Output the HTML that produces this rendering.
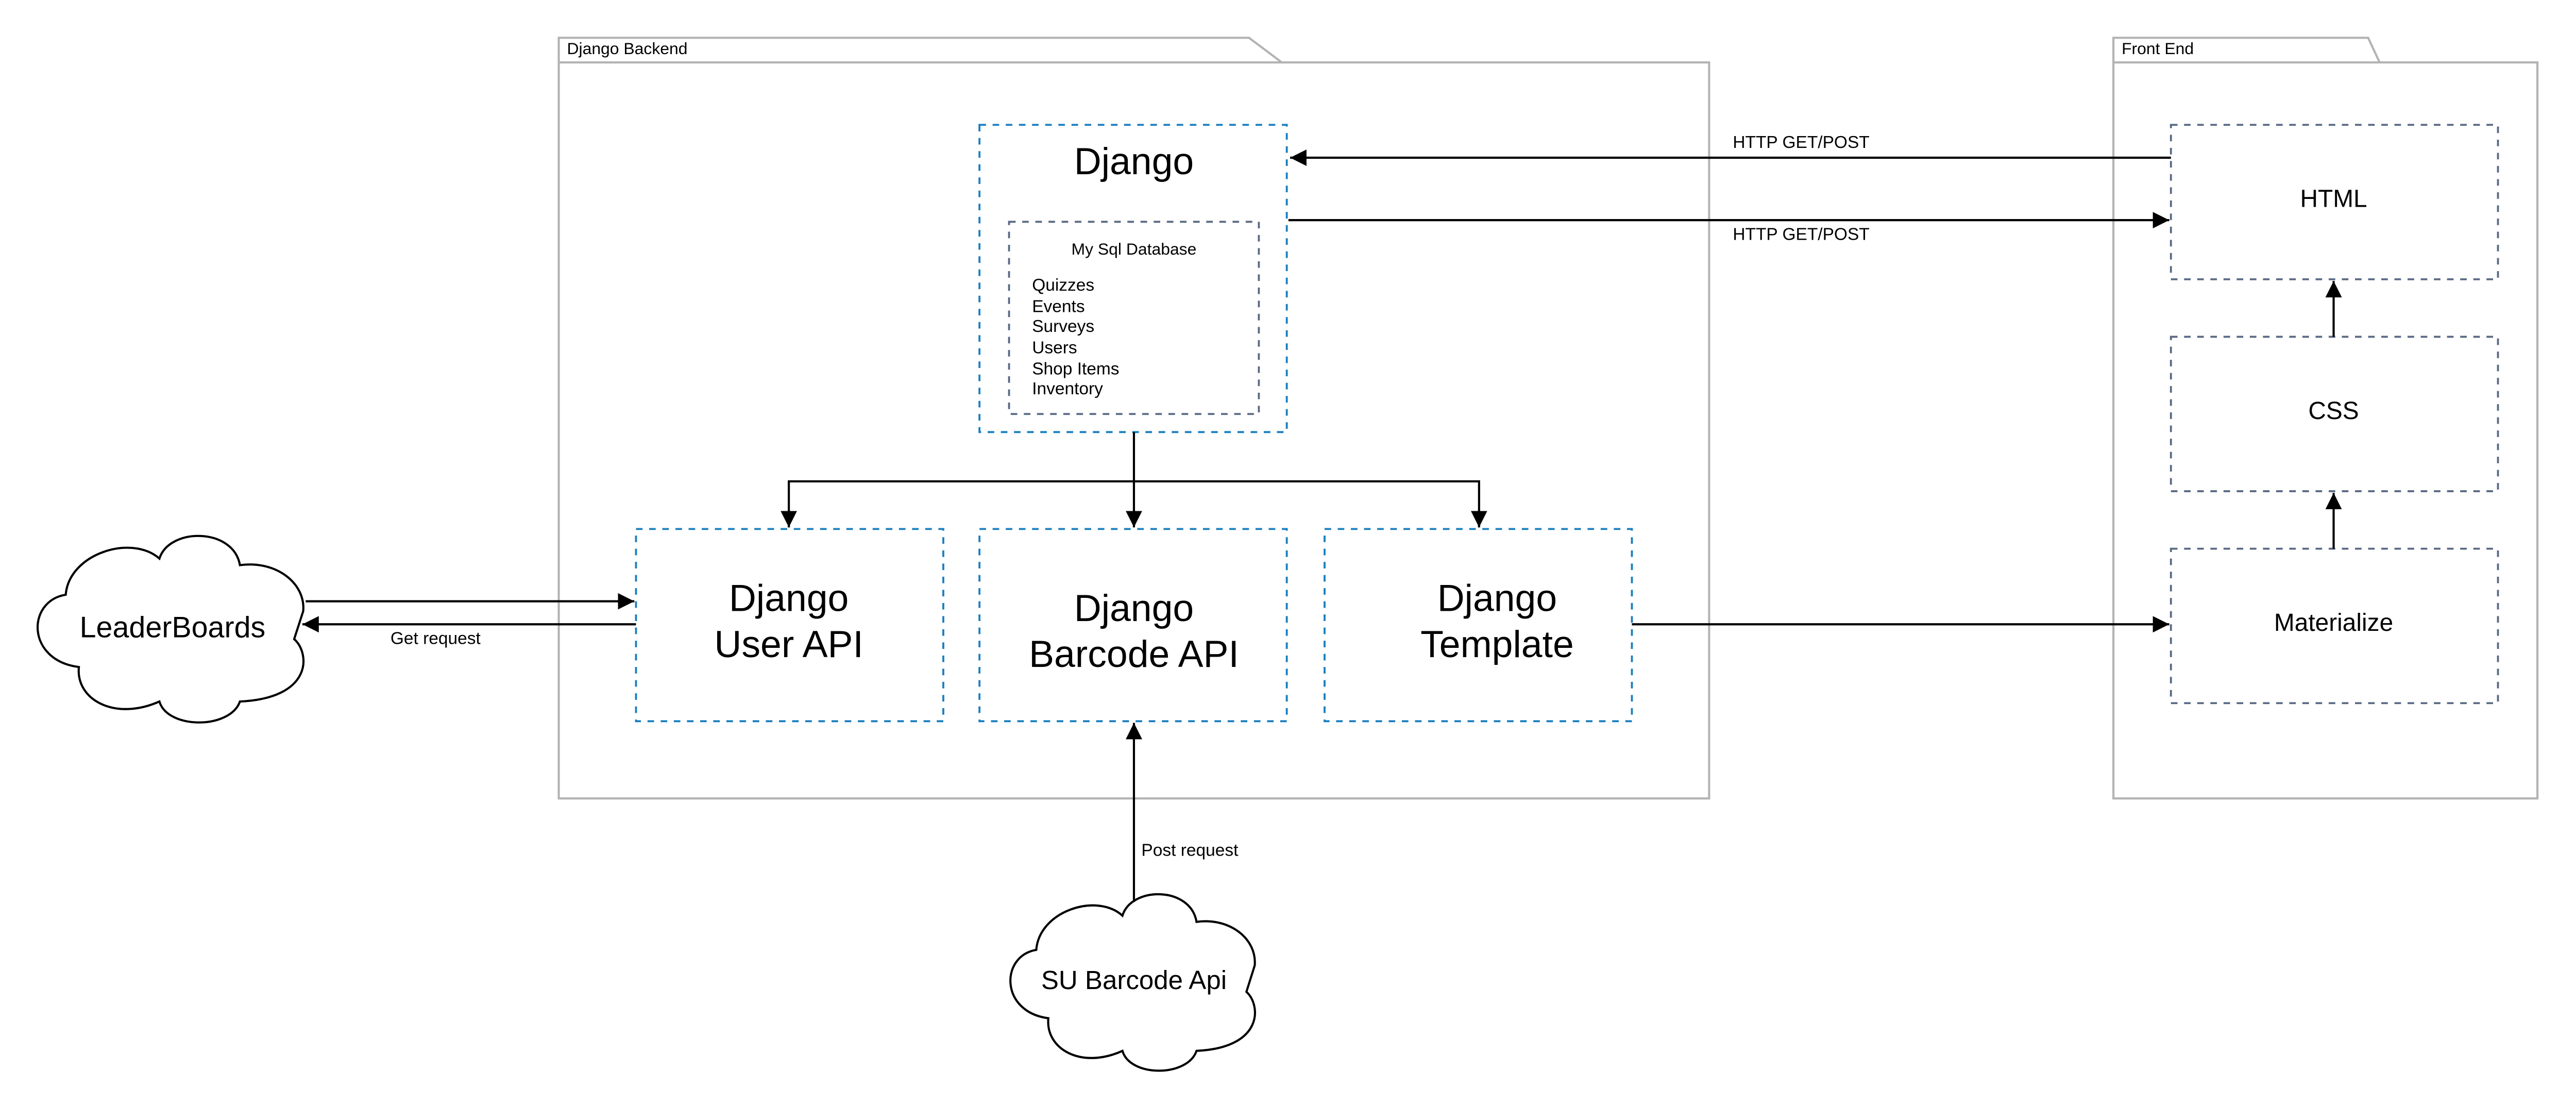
<!DOCTYPE html>
<html><head><meta charset="utf-8"><style>
html,body{margin:0;padding:0;background:#fff;}
svg{display:block;}
text{font-family:"Liberation Sans",sans-serif;fill:#000;}
</style></head><body>
<svg width="5016" height="2142" viewBox="0 0 1572.5 672" preserveAspectRatio="none" xmlns="http://www.w3.org/2000/svg">
<defs>
<marker id="ah" viewBox="0 0 10 10" refX="10" refY="5" markerWidth="10" markerHeight="10" markerUnits="userSpaceOnUse" orient="auto">
<path d="M0,0 L10,5 L0,10 Z" fill="#000"/></marker>
<path id="cloud" d="M40,362 C42,337 80,325 97,340 C103,321 142,321 146,344 C168,341 186,355 184.5,372 L179,389 C189,398 190,425 146,427 C140,444 102,444 97,427 C70,439 46,426 48,406 C16,402 16,366 40,362 Z"/>
</defs>
<rect width="1572.5" height="672" fill="#fff"/>
<g fill="none" stroke="#b3b3b3" stroke-width="1.3">
<path d="M340,38 L340,23 L760,23 L780,38"/>
<rect x="340" y="38" width="700" height="448"/>
<path d="M1286,38 L1286,23 L1441,23 L1448,38"/>
<rect x="1286" y="38" width="258" height="448"/>
</g>
<text x="345" y="33" font-size="10">Django Backend</text>
<text x="1291" y="33" font-size="10">Front End</text>
<g fill="none" stroke="#1a7fbf" stroke-width="1.2" stroke-dasharray="4,4">
<rect x="596" y="76" width="187" height="187"/>
<rect x="387" y="322" width="187" height="117"/>
<rect x="596" y="322" width="187" height="117"/>
<rect x="806" y="322" width="187" height="117"/>
</g>
<g fill="none" stroke="#5a6a85" stroke-width="1.2" stroke-dasharray="4,4">
<rect x="614" y="135" width="152" height="117"/>
<rect x="1321" y="76" width="199" height="94"/>
<rect x="1321" y="205" width="199" height="94"/>
<rect x="1321" y="334" width="199" height="94"/>
</g>
<text x="690" y="106" font-size="23" text-anchor="middle">Django</text>
<text x="690" y="155" font-size="10" text-anchor="middle">My Sql Database</text>
<g font-size="10.5">
<text x="628" y="177">Quizzes</text>
<text x="628" y="190">Events</text>
<text x="628" y="202">Surveys</text>
<text x="628" y="215">Users</text>
<text x="628" y="228">Shop Items</text>
<text x="628" y="240">Inventory</text>
</g>
<g font-size="23" text-anchor="middle">
<text x="480" y="372">Django</text><text x="480" y="400">User API</text>
<text x="690" y="378">Django</text><text x="690" y="406">Barcode API</text>
<text x="911" y="372">Django</text><text x="911" y="400">Template</text>
</g>
<g font-size="15" text-anchor="middle">
<text x="1420" y="126">HTML</text>
<text x="1420" y="255">CSS</text>
<text x="1420" y="384">Materialize</text>
</g>
<g stroke="#000" stroke-width="1.3" fill="none">
<line x1="1321" y1="96" x2="785" y2="96" marker-end="url(#ah)"/>
<line x1="784" y1="134" x2="1320" y2="134" marker-end="url(#ah)"/>
<line x1="1420" y1="205" x2="1420" y2="171" marker-end="url(#ah)"/>
<line x1="1420" y1="334" x2="1420" y2="300" marker-end="url(#ah)"/>
<line x1="690" y1="263" x2="690" y2="321" marker-end="url(#ah)"/>
<path d="M480,321 L480,293 L900,293 L900,321" />
<line x1="480" y1="310" x2="480" y2="321" marker-end="url(#ah)"/>
<line x1="900" y1="310" x2="900" y2="321" marker-end="url(#ah)"/>
<line x1="993" y1="380" x2="1320" y2="380" marker-end="url(#ah)"/>
<line x1="186" y1="366" x2="386" y2="366" marker-end="url(#ah)"/>
<line x1="387" y1="380" x2="184" y2="380" marker-end="url(#ah)"/>
</g>
<g font-size="10.5" text-anchor="middle">
<text x="1096" y="90">HTTP GET/POST</text>
<text x="1096" y="146">HTTP  GET/POST</text>
<text x="265" y="392">Get request</text>
<text x="724" y="521">Post request</text>
</g>
<use href="#cloud" fill="#fff" stroke="#000" stroke-width="1.3"/>
<g transform="translate(614,546) scale(0.92,0.946) translate(-22,-328)">
<use href="#cloud" fill="#fff" stroke="#000" stroke-width="1.4"/>
</g>
<line x1="690" y1="549" x2="690" y2="440" stroke="#000" stroke-width="1.3" marker-end="url(#ah)"/>
<text x="105" y="388" font-size="18" text-anchor="middle">LeaderBoards</text>
<text x="690" y="602" font-size="16" text-anchor="middle">SU Barcode Api</text>
</svg>
</body></html>
